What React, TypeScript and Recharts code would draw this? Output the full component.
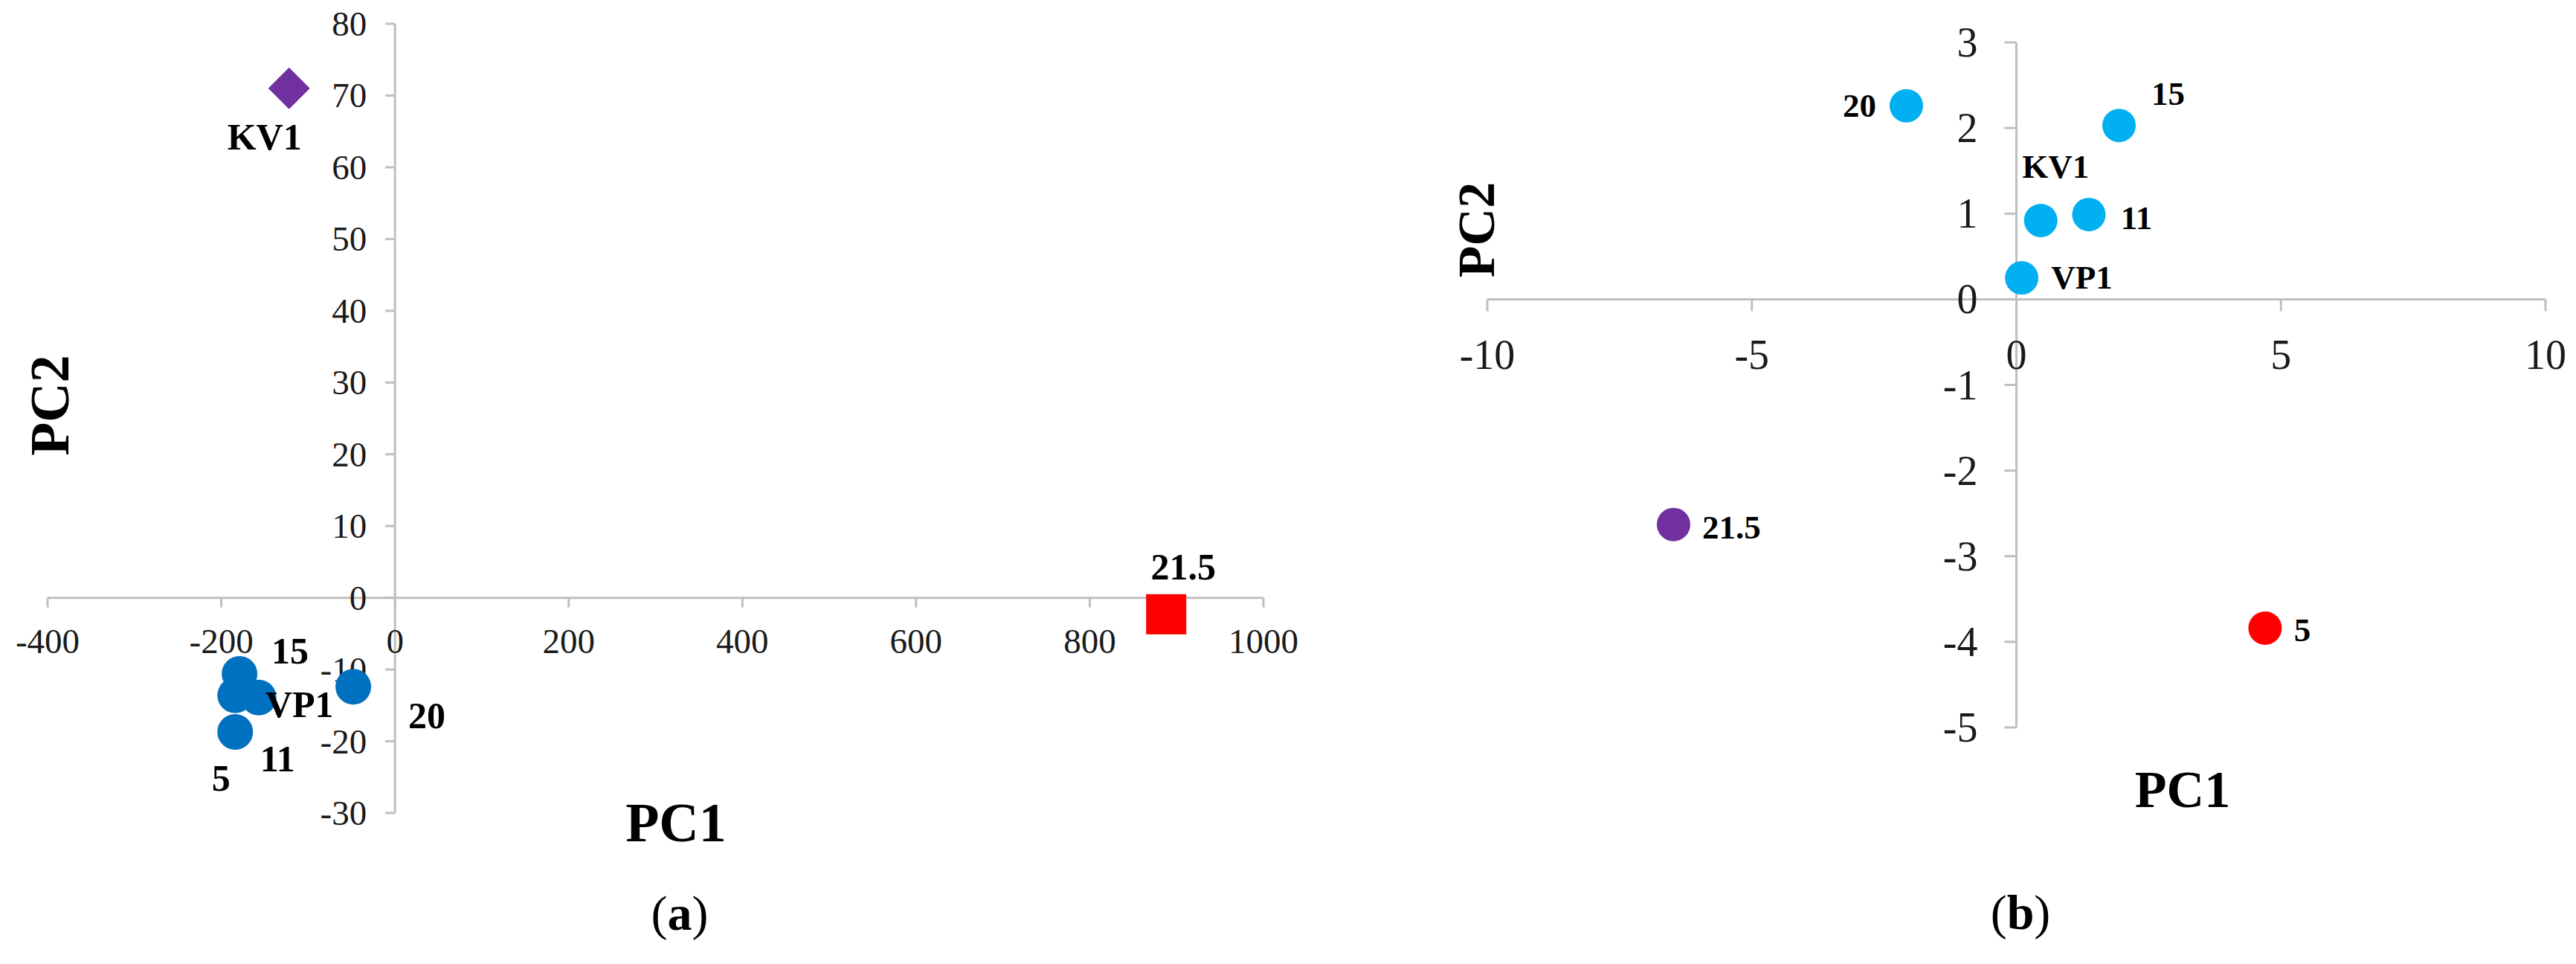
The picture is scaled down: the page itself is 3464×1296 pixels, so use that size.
import React from "react";
import { ScatterChart, Scatter, XAxis, YAxis, ReferenceLine, ReferenceDot } from "recharts";

// ---- panel (a) ----
const blueNamesA = ["15", "VP1", "11", "5", "20"];
const bluePc1A = [-179, -157, -184, -184, -48];
const bluePc2A = [-10.6, -13.9, -13.6, -18.7, -12.4];
const purpleNamesA = ["KV1"];
const purplePc1A = [-122];
const purplePc2A = [71];
const redNamesA = ["21.5"];
const redPc1A = [888];
const redPc2A = [-2.3];
const xTicksA = [-400, -200, 0, 200, 400, 600, 800, 1000];
const yTicksA = [-30, -20, -10, 0, 10, 20, 30, 40, 50, 60, 70, 80];

// ---- panel (b) ----
const blueNamesB = ["20", "15", "KV1", "11", "VP1"];
const bluePc1B = [-2.08, 1.94, 0.46, 1.37, 0.1];
const bluePc2B = [2.26, 2.03, 0.92, 0.99, 0.25];
const purpleNamesB = ["21.5"];
const purplePc1B = [-6.48];
const purplePc2B = [-2.63];
const redNamesB = ["5"];
const redPc1B = [4.7];
const redPc2B = [-3.84];
const xTicksB = [-10, -5, 0, 5, 10];
const yTicksB = [-5, -4, -3, -2, -1, 0, 1, 2, 3];

// label placement (pixel offset from the marker centre)
const labelOffsetA: Record<string, [number, number]> = {
  KV1: [-33, 65],
  "21.5": [23, -64],
  "15": [68, -31],
  VP1: [55, 9],
  "11": [57, 85],
  "5": [-19, 62],
  "20": [99, 39],
};
const labelOffsetB: Record<string, [number, number]> = {
  "20": [-63, 0],
  "15": [66, -43],
  KV1: [20, -72],
  "11": [64, 5],
  VP1: [81, -1],
  "21.5": [78, 4],
  "5": [50, 3],
};

const toRows = (names: string[], xs: number[], ys: number[]) =>
  names.map((name, i) => ({ name, x: xs[i], y: ys[i] }));

const SERIF = "'Liberation Serif', 'Times New Roman', serif";
const AXIS = "#BFBFBF";

const makeShape =
  (kind: string, color: string, size: number, offsets: Record<string, [number, number]>, fontSize: number) =>
  (p: any) => {
    const { cx, cy, payload } = p;
    const [dx, dy] = offsets[payload.name] || [0, 0];
    let mark;
    if (kind === "circle") mark = <circle cx={cx} cy={cy} r={size} fill={color} />;
    else if (kind === "square")
      mark = <rect x={cx - size} y={cy - size} width={size * 2} height={size * 2} fill={color} />;
    else
      mark = (
        <polygon
          points={`${cx},${cy - size} ${cx + size},${cy} ${cx},${cy + size} ${cx - size},${cy}`}
          fill={color}
        />
      );
    return (
      <g>
        {mark}
        <text
          x={cx + dx}
          y={cy + dy}
          textAnchor="middle"
          dominantBaseline="central"
          fontFamily={SERIF}
          fontWeight="bold"
          fontSize={fontSize}
          fill="#000"
        >
          {payload.name}
        </text>
      </g>
    );
  };

const xTick = (label: number, len: number, gap: number, fs: number) => (p: any) =>
  (
    <g>
      <line x1={p.cx} y1={p.cy} x2={p.cx} y2={p.cy + len} stroke={AXIS} strokeWidth={3} />
      <text x={p.cx} y={p.cy + gap} textAnchor="middle" dominantBaseline="central" fontFamily={SERIF} fontSize={fs} fill="#1a1a1a">
        {label}
      </text>
    </g>
  );

const yTick = (label: number, len: number, gap: number, fs: number) => (p: any) =>
  (
    <g>
      <line x1={p.cx - len} y1={p.cy} x2={p.cx} y2={p.cy} stroke={AXIS} strokeWidth={3} />
      <text x={p.cx - gap} y={p.cy} textAnchor="end" dominantBaseline="central" fontFamily={SERIF} fontSize={fs} fill="#1a1a1a">
        {label}
      </text>
    </g>
  );

const Title = ({ text, x, y, size, rotate }: any) => (
  <div
    style={{
      position: "absolute",
      left: x,
      top: y,
      transform: `translate(-50%, -50%)${rotate ? " rotate(-90deg)" : ""}`,
      fontFamily: SERIF,
      fontWeight: "bold",
      fontSize: size,
      whiteSpace: "nowrap",
      lineHeight: 1,
    }}
  >
    {text}
  </div>
);

const Caption = ({ letter, x, y }: any) => (
  <div
    style={{
      position: "absolute",
      left: x,
      top: y,
      transform: "translate(-50%, -50%)",
      fontFamily: SERIF,
      fontSize: 66,
      whiteSpace: "nowrap",
      lineHeight: 1,
    }}
  >
    (<b>{letter}</b>)
  </div>
);

export default function App() {
  return (
    <div style={{ position: "absolute", left: 0, top: 0, width: 3464, height: 1296, background: "#fff", overflow: "hidden" }}>
      {/* panel (a) */}
      <div style={{ position: "absolute", left: 0, top: 0 }}>
        <ScatterChart width={1760} height={1296} margin={{ top: 32, left: 64, right: 61, bottom: 203 }}>
          <XAxis type="number" dataKey="x" domain={[-400, 1000]} ticks={xTicksA} tickCount={8} allowDataOverflow hide />
          <YAxis type="number" dataKey="y" domain={[-30, 80]} ticks={yTicksA} tickCount={12} allowDataOverflow hide />
          <ReferenceLine y={0} stroke={AXIS} strokeWidth={3} />
          <ReferenceLine x={0} stroke={AXIS} strokeWidth={3} />
          {xTicksA.map((t) => (
            <ReferenceDot key={"xa" + t} x={t} y={0} ifOverflow="visible" shape={xTick(t, 13, 58, 47)} />
          ))}
          {yTicksA.map((t) => (
            <ReferenceDot key={"ya" + t} x={0} y={t} ifOverflow="visible" shape={yTick(t, 13, 38, 47)} />
          ))}
          <Scatter data={toRows(blueNamesA, bluePc1A, bluePc2A)} isAnimationActive={false} shape={makeShape("circle", "#0070C0", 24, labelOffsetA, 50)} />
          <Scatter data={toRows(purpleNamesA, purplePc1A, purplePc2A)} isAnimationActive={false} shape={makeShape("diamond", "#7030A0", 28, labelOffsetA, 50)} />
          <Scatter data={toRows(redNamesA, redPc1A, redPc2A)} isAnimationActive={false} shape={makeShape("square", "#FF0000", 27, labelOffsetA, 50)} />
        </ScatterChart>
      </div>
      <Title text="PC2" x={67} y={545} size={74} rotate />
      <Title text="PC1" x={909} y={1106} size={74} />
      <Caption letter="a" x={914} y={1228} />

      {/* panel (b) */}
      <div style={{ position: "absolute", left: 1760, top: 0 }}>
        <ScatterChart width={1704} height={1296} margin={{ top: 57, left: 240, right: 41, bottom: 318 }}>
          <XAxis type="number" dataKey="x" domain={[-10, 10]} ticks={xTicksB} tickCount={5} allowDataOverflow hide />
          <YAxis type="number" dataKey="y" domain={[-5, 3]} ticks={yTicksB} tickCount={9} allowDataOverflow hide />
          <ReferenceLine y={0} stroke={AXIS} strokeWidth={3} />
          <ReferenceLine x={0} stroke={AXIS} strokeWidth={3} />
          {xTicksB.map((t) => (
            <ReferenceDot key={"xb" + t} x={t} y={0} ifOverflow="visible" shape={xTick(t, 16, 75, 56)} />
          ))}
          {yTicksB.map((t) => (
            <ReferenceDot key={"yb" + t} x={0} y={t} ifOverflow="visible" shape={yTick(t, 16, 52, 56)} />
          ))}
          <Scatter data={toRows(blueNamesB, bluePc1B, bluePc2B)} isAnimationActive={false} shape={makeShape("circle", "#00B0F0", 22.5, labelOffsetB, 45)} />
          <Scatter data={toRows(purpleNamesB, purplePc1B, purplePc2B)} isAnimationActive={false} shape={makeShape("circle", "#7030A0", 22.5, labelOffsetB, 45)} />
          <Scatter data={toRows(redNamesB, redPc1B, redPc2B)} isAnimationActive={false} shape={makeShape("circle", "#FF0000", 22.5, labelOffsetB, 45)} />
        </ScatterChart>
      </div>
      <Title text="PC2" x={1986} y={309} size={70} rotate />
      <Title text="PC1" x={2935} y={1062} size={70} />
      <Caption letter="b" x={2717} y={1227} />
    </div>
  );
}
